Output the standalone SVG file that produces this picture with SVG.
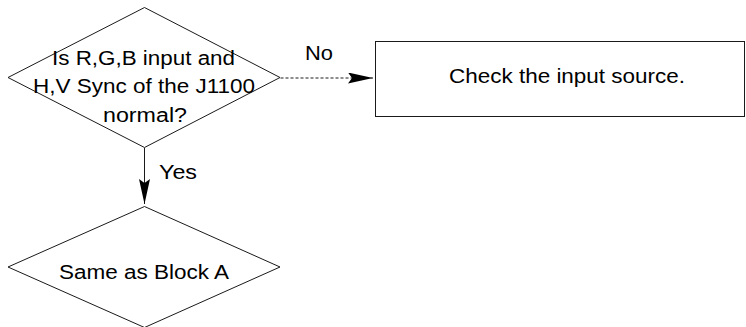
<svg xmlns="http://www.w3.org/2000/svg" width="746" height="327" viewBox="0 0 746 327">
<style>
.shape{fill:#fff;stroke:#1a1a1a;stroke-width:1}
.t{font-family:"Liberation Sans",Arial,sans-serif;font-size:20px;fill:#000;text-anchor:middle}
.conn{stroke:#1a1a1a;stroke-width:1;fill:none}
</style>
<defs>
<marker id="ah" viewBox="0 0 25 11" refX="25" refY="5.5" markerWidth="25" markerHeight="11" markerUnits="userSpaceOnUse" orient="auto">
<path d="M0,0 L25,5.5 L0,11 L4,5.5 Z" fill="#000"/>
</marker>
</defs>
<rect width="746" height="327" fill="#fff"/>
<g id="connectors">
<path class="conn" d="M280.5,78 L373,78" stroke-dasharray="3,2" marker-end="url(#ah)"/>
<path class="conn" d="M144.5,148 L144.5,204" marker-end="url(#ah)"/>
<text class="t" x="319" y="60" textLength="28" lengthAdjust="spacingAndGlyphs">No</text>
<text class="t" x="178" y="179" textLength="38" lengthAdjust="spacingAndGlyphs">Yes</text>
</g>
<g id="decision1">
<polygon class="shape" points="144.5,7.5 280,77.5 144.5,147.5 8,77.5"/>
<text class="t" x="143.5" y="65" textLength="183" lengthAdjust="spacingAndGlyphs">Is R,G,B input and</text>
<text class="t" x="144" y="93" textLength="222" lengthAdjust="spacingAndGlyphs">H,V Sync of the J1100</text>
<text class="t" x="145" y="122" textLength="84" lengthAdjust="spacingAndGlyphs">normal?</text>
</g>
<g id="check">
<rect class="shape" x="375.5" y="41.5" width="369" height="75"/>
<text class="t" x="567" y="83" textLength="236" lengthAdjust="spacingAndGlyphs">Check the input source.</text>
</g>
<g id="decision2">
<polygon class="shape" points="144.5,206.5 280,267 144.5,327.5 8,267"/>
<text class="t" x="144" y="279" textLength="170" lengthAdjust="spacingAndGlyphs">Same as Block A</text>
</g>
</svg>
